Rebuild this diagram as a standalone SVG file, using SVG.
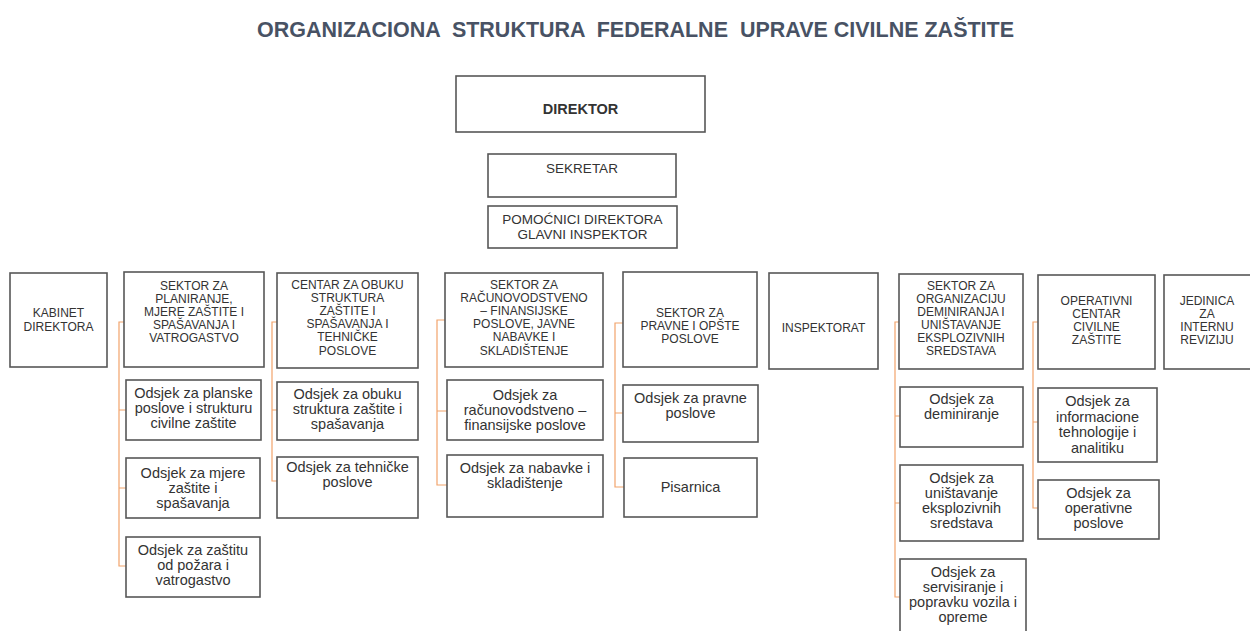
<svg xmlns="http://www.w3.org/2000/svg" width="1250" height="631" viewBox="0 0 1250 631">
<style>
.bx{fill:#fff;stroke:#575757;stroke-width:1.6}
.t{font-family:"Liberation Sans",Arial,sans-serif;fill:#333;text-anchor:middle}
.c{font-size:12px}
.o{font-size:14.5px}
.h{font-size:13.5px}
.cn{fill:none;stroke:#f2a36b;stroke-width:1.2}
</style>
<rect width="1250" height="631" fill="#fff"/>
<text x="635.5" y="37" font-family="'Liberation Sans',Arial,sans-serif" font-size="22" font-weight="bold" fill="#485264" text-anchor="middle" textLength="757" lengthAdjust="spacingAndGlyphs" xml:space="preserve">ORGANIZACIONA  STRUKTURA  FEDERALNE  UPRAVE CIVILNE ZAŠTITE</text>

<g id="connectors">
<path class="cn" d="M124 322H119V566H126M119 410H126M119 488H126"/>
<path class="cn" d="M277 322H272V481H277M272 410H277"/>
<path class="cn" d="M445 320H437V485H447M437 411H447"/>
<path class="cn" d="M623 323H615V487H624M615 413H623"/>
<path class="cn" d="M899 322H895V597H900M895 416H900M895 503H900"/>
<path class="cn" d="M1038 322H1033V508H1038M1033 422H1038"/>
</g>

<g id="direktor"><rect class="bx" x="456" y="76" width="249" height="56"/><text class="t" x="580.5" y="114" font-size="14.5" font-weight="bold">DIREKTOR</text></g>
<g id="sekretar"><rect class="bx" x="488" y="154" width="188" height="43"/><text class="t h" x="582" y="173">SEKRETAR</text></g>
<g id="pomocnici"><rect class="bx" x="488" y="206" width="189" height="42"/><text class="t h" x="582.5" y="224">POMOĆNICI DIREKTORA</text><text class="t h" x="582.5" y="239">GLAVNI INSPEKTOR</text></g>

<g id="kabinet"><rect class="bx" x="10" y="273" width="97" height="94"/><text class="t c"><tspan x="58.5" y="317">KABINET</tspan><tspan x="58.5" y="331">DIREKTORA</tspan></text></g>
<g id="sektor-planiranje"><rect class="bx" x="124" y="272" width="140" height="95"/><text class="t c"><tspan x="194" y="290">SEKTOR ZA</tspan><tspan x="194" y="303">PLANIRANJE,</tspan><tspan x="194" y="316">MJERE ZAŠTITE I</tspan><tspan x="194" y="329">SPAŠAVANJA I</tspan><tspan x="194" y="342">VATROGASTVO</tspan></text></g>
<g id="centar-obuka"><rect class="bx" x="277" y="273" width="141" height="95"/><text class="t c"><tspan x="347.5" y="289">CENTAR ZA OBUKU</tspan><tspan x="347.5" y="302">STRUKTURA</tspan><tspan x="347.5" y="315">ZAŠTITE I</tspan><tspan x="347.5" y="328">SPAŠAVANJA I</tspan><tspan x="347.5" y="341">TEHNIČKE</tspan><tspan x="347.5" y="355">POSLOVE</tspan></text></g>
<g id="sektor-racunovodstvo"><rect class="bx" x="445" y="273" width="158" height="94"/><text class="t c"><tspan x="524" y="289">SEKTOR ZA</tspan><tspan x="524" y="302">RAČUNOVODSTVENO</tspan><tspan x="524" y="315">– FINANSIJSKE</tspan><tspan x="524" y="328">POSLOVE, JAVNE</tspan><tspan x="524" y="341">NABAVKE I</tspan><tspan x="524" y="355">SKLADIŠTENJE</tspan></text></g>
<g id="sektor-pravne"><rect class="bx" x="623" y="272" width="134" height="95"/><text class="t c"><tspan x="690" y="317">SEKTOR ZA</tspan><tspan x="690" y="330">PRAVNE I OPŠTE</tspan><tspan x="690" y="343">POSLOVE</tspan></text></g>
<g id="inspektorat"><rect class="bx" x="769" y="273" width="109" height="96"/><text class="t c" x="823.5" y="332">INSPEKTORAT</text></g>
<g id="sektor-deminiranje"><rect class="bx" x="899" y="274" width="124" height="95"/><text class="t c"><tspan x="961" y="290">SEKTOR ZA</tspan><tspan x="961" y="303">ORGANIZACIJU</tspan><tspan x="961" y="316">DEMINIRANJA I</tspan><tspan x="961" y="329">UNIŠTAVANJE</tspan><tspan x="961" y="342">EKSPLOZIVNIH</tspan><tspan x="961" y="355">SREDSTAVA</tspan></text></g>
<g id="operativni-centar"><rect class="bx" x="1038" y="275" width="117" height="94"/><text class="t c"><tspan x="1096.5" y="305">OPERATIVNI</tspan><tspan x="1096.5" y="318">CENTAR</tspan><tspan x="1096.5" y="331">CIVILNE</tspan><tspan x="1096.5" y="344">ZAŠTITE</tspan></text></g>
<g id="jedinica"><rect class="bx" x="1164" y="275" width="90" height="94"/><text class="t c"><tspan x="1207" y="305">JEDINICA</tspan><tspan x="1207" y="318">ZA</tspan><tspan x="1207" y="331">INTERNU</tspan><tspan x="1207" y="344">REVIZIJU</tspan></text></g>

<g id="odsjek-planske"><rect class="bx" x="126" y="380" width="135" height="60"/><text class="t o"><tspan x="193.5" y="398">Odsjek za planske</tspan><tspan x="193.5" y="413">poslove i strukturu</tspan><tspan x="193.5" y="428">civilne zaštite</tspan></text></g>
<g id="odsjek-mjere"><rect class="bx" x="126" y="458" width="134" height="60"/><text class="t o"><tspan x="193" y="478">Odsjek za mjere</tspan><tspan x="193" y="493">zaštite i</tspan><tspan x="193" y="508">spašavanja</tspan></text></g>
<g id="odsjek-pozar"><rect class="bx" x="126" y="537" width="134" height="60"/><text class="t o"><tspan x="193" y="555">Odsjek za zaštitu</tspan><tspan x="193" y="570">od požara i</tspan><tspan x="193" y="585">vatrogastvo</tspan></text></g>
<g id="odsjek-obuka"><rect class="bx" x="277" y="382" width="141" height="58"/><text class="t o"><tspan x="347.5" y="399">Odsjek za obuku</tspan><tspan x="347.5" y="414">struktura zaštite i</tspan><tspan x="347.5" y="429">spašavanja</tspan></text></g>
<g id="odsjek-tehnicke"><rect class="bx" x="277" y="457" width="141" height="61"/><text class="t o"><tspan x="347.5" y="472">Odsjek za tehničke</tspan><tspan x="347.5" y="487">poslove</tspan></text></g>
<g id="odsjek-racunovodstvo"><rect class="bx" x="447" y="380" width="156" height="60"/><text class="t o"><tspan x="525" y="400">Odsjek za</tspan><tspan x="525" y="415">računovodstveno –</tspan><tspan x="525" y="430">finansijske poslove</tspan></text></g>
<g id="odsjek-nabavke"><rect class="bx" x="447" y="455" width="156" height="62"/><text class="t o"><tspan x="525" y="473">Odsjek za nabavke i</tspan><tspan x="525" y="488">skladištenje</tspan></text></g>
<g id="odsjek-pravne"><rect class="bx" x="623" y="385" width="135" height="57"/><text class="t o"><tspan x="690.5" y="403">Odsjek za pravne</tspan><tspan x="690.5" y="418">poslove</tspan></text></g>
<g id="pisarnica"><rect class="bx" x="624" y="458" width="133" height="59"/><text class="t o" x="690.5" y="492">Pisarnica</text></g>
<g id="odsjek-deminiranje"><rect class="bx" x="900" y="387" width="123" height="60"/><text class="t o"><tspan x="961.5" y="404">Odsjek za</tspan><tspan x="961.5" y="419">deminiranje</tspan></text></g>
<g id="odsjek-unistavanje"><rect class="bx" x="900" y="465" width="123" height="76"/><text class="t o"><tspan x="961.5" y="483">Odsjek za</tspan><tspan x="961.5" y="498">uništavanje</tspan><tspan x="961.5" y="513">eksplozivnih</tspan><tspan x="961.5" y="528">sredstava</tspan></text></g>
<g id="odsjek-servisiranje"><rect class="bx" x="900" y="559" width="126" height="80"/><text class="t o"><tspan x="963" y="577">Odsjek za</tspan><tspan x="963" y="592">servisiranje i</tspan><tspan x="963" y="607">popravku vozila i</tspan><tspan x="963" y="622">opreme</tspan></text></g>
<g id="odsjek-it"><rect class="bx" x="1038" y="388" width="119" height="74"/><text class="t o"><tspan x="1097.5" y="406">Odsjek za</tspan><tspan x="1097.5" y="421.5">informacione</tspan><tspan x="1097.5" y="437">tehnologije i</tspan><tspan x="1097.5" y="452.5">analitiku</tspan></text></g>
<g id="odsjek-operativne"><rect class="bx" x="1038" y="480" width="121" height="59"/><text class="t o"><tspan x="1098.5" y="498">Odsjek za</tspan><tspan x="1098.5" y="513">operativne</tspan><tspan x="1098.5" y="528">poslove</tspan></text></g>
</svg>
